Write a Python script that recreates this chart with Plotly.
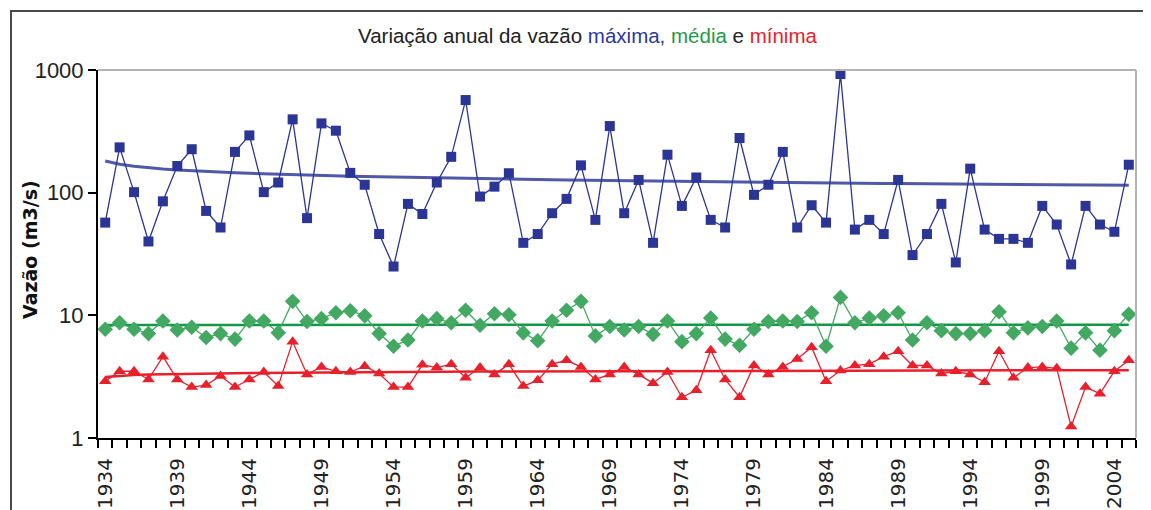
import numpy as np
import plotly.graph_objects as go

years = list(range(1934, 2006))

maxima = [57, 234, 101, 40, 85, 165, 226, 71, 52, 215, 293, 101, 121, 396, 62, 367, 320, 145, 116, 46, 25, 81, 67, 121, 196,
          569, 93, 112, 144, 39, 46, 68, 89, 167, 60, 349, 68, 127, 39, 204, 78, 133, 60, 52, 279, 96, 116, 215, 52,
          79, 57, 928, 50, 60, 46, 127, 31, 46, 81, 27, 157, 50, 42, 42, 39, 78, 55, 26, 78, 55, 48, 169]

media = [7.7, 8.7, 7.7, 7.1, 9.0, 7.6, 8.0, 6.6, 7.1, 6.4, 9.0, 9.0, 7.2, 13, 8.9, 9.4, 10.5, 10.9, 9.9, 7.1, 5.6, 6.3, 9.0, 9.4, 8.7,
         11.0, 8.3, 10.3, 10.1, 7.2, 6.2, 9.0, 11.0, 13, 6.8, 8.1, 7.6, 8.1, 7.0, 9.0, 6.1, 7.1, 9.5, 6.4, 5.7, 7.7, 8.9, 9.0, 8.9,
         10.5, 5.6, 14, 8.7, 9.5, 9.9, 10.5, 6.3, 8.7, 7.5, 7.1, 7.1, 7.5, 10.7, 7.2, 7.9, 8.1, 9.0, 5.4, 7.2, 5.2, 7.5, 10.2]

minima = [2.9, 3.5, 3.5, 3.0, 4.6, 3.0, 2.6, 2.7, 3.2, 2.6, 3.0, 3.45, 2.65, 6.1, 3.3, 3.8, 3.5, 3.45, 3.85, 3.35, 2.6, 2.6, 3.95, 3.75, 4.0,
          3.1, 3.75, 3.3, 4.0, 2.65, 2.95, 4.0, 4.3, 3.8, 3.0, 3.3, 3.8, 3.3, 2.8, 3.45, 2.15, 2.45, 5.2, 3.0, 2.15, 3.9, 3.3, 3.8, 4.4,
          5.5, 2.9, 3.55, 3.9, 4.0, 4.6, 5.1, 3.9, 3.9, 3.35, 3.5, 3.3, 2.85, 5.1, 3.1, 3.75, 3.8, 3.7, 1.24, 2.6, 2.3, 3.5, 4.3]

tick_years = list(range(1934, 2005, 5))
tick_labels = [str(y) for y in tick_years]
y_ticks = [1, 10, 100, 1000]
y_labels = ["1", "10", "100", "1000"]

BLUE = "#2b3595"
GREEN = "#43a862"
RED = "#e8202c"


def log_trend(vals):
    # Excel-style logarithmic trendline: y = a + b*ln(x), x = 1..n
    x = np.arange(1, len(vals) + 1)
    b, a = np.polyfit(np.log(x), np.asarray(vals, dtype=float), 1)
    return a + b * np.log(x)


fig = go.Figure()

series = [
    ("máxima", maxima, BLUE, "square", 10, "#5058a8", 3),
    ("média", media, GREEN, "diamond", 12, "#129847", 2.5),
    ("mínima", minima, RED, "triangle-up", 11, "#e8202c", 2.5),
]

for name, vals, col, sym, msize, tcol, tw in series:
    fig.add_trace(go.Scatter(x=years, y=log_trend(vals), mode="lines",
                             line=dict(color=tcol, width=tw), showlegend=False,
                             hoverinfo="skip"))
    fig.add_trace(go.Scatter(x=years, y=vals, mode="lines+markers", name=name,
                             line=dict(color=col, width=1.3),
                             marker=dict(symbol=sym, size=msize, color=col),
                             showlegend=False))

# page has an 8px body margin, so figure coords = page coords - 8
OFF = 8
W, H = 1151, 510
L = 98 - OFF
T = 70 - OFF
R = W - (1136 - OFF)
B = H - (438 - OFF)
pw = W - L - R
ph = H - T - B


def px_x(page_x):
    return (page_x - OFF - L) / pw


def px_y(page_y):
    return (H - B - (page_y - OFF)) / ph


fig.update_layout(
    width=W, height=H,
    margin=dict(l=L, r=R, t=T, b=B),
    paper_bgcolor="white", plot_bgcolor="white",
    showlegend=False,
)

fig.update_xaxes(
    range=[1933.5, 2005.5], automargin=False,
    tickmode="array", tickvals=tick_years, ticktext=tick_labels,
    tickangle=-90, ticks="", showgrid=False, zeroline=False,
    showline=True, linecolor="black", linewidth=2,
    tickfont=dict(family="DejaVu Sans", size=20, color="#222"),
    ticklabelstandoff=10,
    minor=dict(tickmode="array", tickvals=[y - 0.5 for y in years] + [years[-1] + 0.5],
               ticks="outside", ticklen=8, tickwidth=1.5, tickcolor="black", showgrid=False),
)

fig.update_yaxes(
    type="log", range=[0, 3], automargin=False,
    tickmode="array", tickvals=y_ticks, ticktext=y_labels,
    ticks="outside", ticklen=8, tickwidth=1.5, tickcolor="black",
    showgrid=False, zeroline=False,
    showline=True, linecolor="black", linewidth=2,
    tickfont=dict(family="Liberation Sans", size=22, color="#222"),
)

# plot-area top/right gray border and outer chart frame
fig.add_shape(type="line", xref="paper", yref="paper", x0=0, x1=1, y0=1, y1=1,
              line=dict(color="#b4b4b4", width=2))
fig.add_shape(type="line", xref="paper", yref="paper", x0=1, x1=1, y0=0, y1=1,
              line=dict(color="#b4b4b4", width=2))
fig.add_shape(type="rect", xref="paper", yref="paper",
              x0=px_x(11), x1=1.2, y0=-0.5, y1=px_y(11),
              line=dict(color="#4a4a4a", width=2), layer="below")

fig.add_annotation(
    xref="paper", yref="paper", x=px_x(30), y=px_y(250),
    text="<b>Vazão (m3/s)</b>", textangle=-90, showarrow=False,
    font=dict(family="DejaVu Sans", size=19, color="#111"),
    xanchor="center", yanchor="middle",
)

title = ('Variação anual da vazão <span style="color:%s">máxima,</span> '
         '<span style="color:%s">média</span> e <span style="color:%s">mínima</span>' % ("#2e3a9a", "#1f9a4a", RED))
fig.add_annotation(
    xref="paper", yref="paper", x=px_x(587), y=px_y(35),
    text=title, showarrow=False,
    font=dict(family="Liberation Sans", size=20.5, color="#222"),
    xanchor="center", yanchor="middle",
)

fig.write_html("out.html")
